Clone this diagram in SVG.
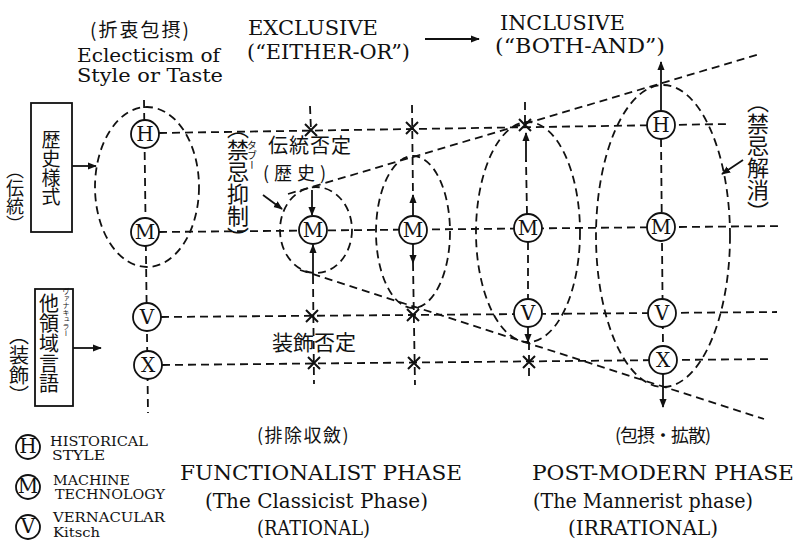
<svg xmlns="http://www.w3.org/2000/svg" width="796" height="540" viewBox="0 0 796 540">
<defs>
<marker id="ah" viewBox="0 0 10 10" refX="9" refY="5" markerWidth="9" markerHeight="9" orient="auto" markerUnits="userSpaceOnUse"><path d="M0,1 L10,5 L0,9 z" fill="#111"/></marker>
<style>
.d{stroke:#111;stroke-width:1.8;stroke-dasharray:8 5;fill:none}
.s{stroke:#111;stroke-width:1.8;fill:none}
.a{stroke:#111;stroke-width:1.8;fill:none;marker-end:url(#ah)}
.xm{stroke:#111;stroke-width:2;fill:none}
.nc{fill:#fff;stroke:#111;stroke-width:1.8}
.nl{font-family:"DejaVu Serif","Liberation Serif",serif;font-size:20px;text-anchor:middle;fill:#111}
.en{font-family:"DejaVu Serif","Liberation Serif",serif;fill:#111}
.jp{font-family:"Noto Sans CJK JP",sans-serif;fill:#111}
.v{font-family:"Noto Sans CJK JP",sans-serif;fill:#111;writing-mode:vertical-rl}
.box{fill:#fff;stroke:#111;stroke-width:1.8}
</style>
</defs>
<rect width="796" height="540" fill="#fff"/>

<g id="ovals">
<ellipse class="d" cx="147" cy="187" rx="52" ry="80"/>
<ellipse class="d" cx="316" cy="230" rx="36" ry="43"/>
<ellipse class="d" cx="413" cy="232" rx="37" ry="76"/>
<ellipse class="d" cx="528" cy="232" rx="52" ry="110"/>
<ellipse class="d" cx="663" cy="236" rx="67" ry="151"/>
</g>

<g id="connectors">
<line class="d" x1="159" y1="133" x2="730" y2="124"/>
<line class="d" x1="159" y1="232" x2="782" y2="226"/>
<line class="d" x1="161" y1="317" x2="777" y2="312"/>
<line class="d" x1="162" y1="365" x2="772" y2="359"/>
<line class="d" x1="288" y1="194" x2="760" y2="54"/>
<line class="d" x1="300" y1="270" x2="764" y2="419"/>
<line class="d" x1="144" y1="100" x2="148" y2="413"/>
<line class="d" x1="310" y1="106" x2="311" y2="131"/>
<line class="a" x1="312" y1="190" x2="312" y2="215"/>
<line class="a" x1="313" y1="276" x2="313" y2="245"/>
<line class="d" x1="313" y1="276" x2="314" y2="384"/>
<line class="d" x1="412" y1="105" x2="413" y2="197"/>
<line class="a" x1="413" y1="216" x2="413" y2="195"/>
<line class="a" x1="413" y1="244" x2="413" y2="263"/>
<line class="d" x1="413" y1="263" x2="415" y2="385"/>
<line class="d" x1="525" y1="102" x2="525" y2="125"/>
<line class="d" x1="527" y1="214" x2="526" y2="160"/>
<line class="a" x1="526" y1="162" x2="526" y2="133"/>
<line class="d" x1="528" y1="242" x2="528" y2="299"/>
<line class="a" x1="528" y1="327" x2="528" y2="342"/>
<line class="d" x1="529" y1="342" x2="529" y2="380"/>
<line class="a" x1="661" y1="111" x2="661" y2="62"/>
<line class="d" x1="661" y1="139" x2="663" y2="346"/>
<line class="a" x1="663" y1="374" x2="663" y2="407"/>
<path class="xm" d="M305,124 l12,12 M317,124 l-12,12 M406,122 l12,12 M418,122 l-12,12 M519,119 l12,12 M531,119 l-12,12 M306,310 l12,12 M318,310 l-12,12 M407,309 l12,12 M419,309 l-12,12 M308,357 l12,12 M320,357 l-12,12 M408,357 l12,12 M420,357 l-12,12 M523,356 l12,12 M535,356 l-12,12"/>
<line class="a" x1="425" y1="39" x2="479" y2="39"/>
<line class="a" x1="72" y1="166" x2="96" y2="166"/>
<line class="a" x1="73" y1="348" x2="101" y2="348"/>
<line class="a" x1="263" y1="195" x2="282" y2="209"/>
<line class="a" x1="743" y1="160" x2="722" y2="174"/>
</g>

<g id="node-H1"><circle class="nc" cx="145" cy="134" r="14"/><text class="nl" x="145" y="141">H</text></g>
<g id="node-M1"><circle class="nc" cx="145" cy="232" r="14"/><text class="nl" x="145" y="239">M</text></g>
<g id="node-V1"><circle class="nc" cx="147" cy="317" r="14"/><text class="nl" x="147" y="324">V</text></g>
<g id="node-X1"><circle class="nc" cx="148" cy="365" r="14"/><text class="nl" x="148" y="372">X</text></g>
<g id="node-M2"><circle class="nc" cx="313" cy="230" r="14"/><text class="nl" x="313" y="237">M</text></g>
<g id="node-M3"><circle class="nc" cx="413" cy="230" r="14"/><text class="nl" x="413" y="237">M</text></g>
<g id="node-M4"><circle class="nc" cx="528" cy="228" r="14"/><text class="nl" x="528" y="235">M</text></g>
<g id="node-V4"><circle class="nc" cx="528" cy="313" r="14"/><text class="nl" x="528" y="320">V</text></g>
<g id="node-H5"><circle class="nc" cx="661" cy="125" r="14"/><text class="nl" x="661" y="132">H</text></g>
<g id="node-M5"><circle class="nc" cx="661" cy="227" r="14"/><text class="nl" x="661" y="234">M</text></g>
<g id="node-V5"><circle class="nc" cx="662" cy="313" r="14"/><text class="nl" x="662" y="320">V</text></g>
<g id="node-X5"><circle class="nc" cx="663" cy="360" r="14"/><text class="nl" x="663" y="367">X</text></g>

<g id="box-history">
<rect class="box" x="31" y="103" width="41" height="129"/>
<text class="v" x="51" y="130" font-size="19">歴史様式</text>
<text class="v" x="15" y="161" font-size="18">（伝統）</text>
</g>
<g id="box-vernacular">
<rect class="box" x="35" y="289" width="38" height="117"/>
<text class="v" x="49" y="293" font-size="20">他領域言語</text>
<text class="v" x="66" y="288" font-size="7">ヴァナキュラー</text>
<text class="v" x="19" y="325" font-size="20">（装飾）</text>
</g>

<g id="labels">
<text class="jp" x="90" y="37" font-size="19" letter-spacing="2">(折衷包摂)</text>
<text class="en" x="77" y="62" font-size="19" textLength="143" lengthAdjust="spacingAndGlyphs">Eclecticism of</text>
<text class="en" x="77" y="82" font-size="19" textLength="146" lengthAdjust="spacingAndGlyphs">Style or Taste</text>
<text class="en" x="248" y="35" font-size="20" textLength="130" lengthAdjust="spacingAndGlyphs">EXCLUSIVE</text>
<text class="en" x="247" y="59" font-size="20" textLength="163" lengthAdjust="spacingAndGlyphs">(“EITHER-OR”)</text>
<text class="en" x="500" y="30" font-size="20" textLength="125" lengthAdjust="spacingAndGlyphs">INCLUSIVE</text>
<text class="en" x="495" y="53" font-size="20" textLength="170" lengthAdjust="spacingAndGlyphs">(“BOTH-AND”)</text>
<text class="jp" x="268" y="153" font-size="20" letter-spacing="1">伝統否定</text>
<text class="jp" x="263" y="180" font-size="18" letter-spacing="5">(歴史)</text>
<text class="v" x="238" y="117" font-size="22">（禁忌抑制）</text>
<text class="v" x="252" y="140" font-size="10">タブー</text>
<text class="v" x="758" y="91" font-size="22">（禁忌解消）</text>
<text class="jp" x="272" y="350" font-size="21">装飾否定</text>
<text class="jp" x="257" y="442" font-size="18" letter-spacing="1.5">(排除収斂)</text>
<text class="jp" x="615" y="442" font-size="18" letter-spacing="-1">(包摂・拡散)</text>
<text class="en" x="180" y="480" font-size="20" textLength="282" lengthAdjust="spacingAndGlyphs">FUNCTIONALIST PHASE</text>
<text class="en" x="205" y="508" font-size="20" textLength="223" lengthAdjust="spacingAndGlyphs">(The Classicist Phase)</text>
<text class="en" x="257" y="535" font-size="20" textLength="113" lengthAdjust="spacingAndGlyphs">(RATIONAL)</text>
<text class="en" x="532" y="480" font-size="20" textLength="262" lengthAdjust="spacingAndGlyphs">POST-MODERN PHASE</text>
<text class="en" x="533" y="508" font-size="20" textLength="220" lengthAdjust="spacingAndGlyphs">(The Mannerist phase)</text>
<text class="en" x="568" y="535" font-size="20" textLength="150" lengthAdjust="spacingAndGlyphs">(IRRATIONAL)</text>
</g>

<g id="legend">
<circle class="nc" cx="28" cy="447" r="12"/><text class="nl" x="28" y="453" font-size="17">H</text>
<circle class="nc" cx="28" cy="487" r="12"/><text class="nl" x="28" y="493" font-size="17">M</text>
<circle class="nc" cx="28" cy="527" r="12"/><text class="nl" x="28" y="533" font-size="17">V</text>
<text class="en" x="50" y="446" font-size="13" textLength="98" lengthAdjust="spacingAndGlyphs">HISTORICAL</text>
<text class="en" x="52" y="460" font-size="13" textLength="53" lengthAdjust="spacingAndGlyphs">STYLE</text>
<text class="en" x="53" y="485" font-size="13" textLength="77" lengthAdjust="spacingAndGlyphs">MACHINE</text>
<text class="en" x="55" y="499" font-size="13" textLength="110" lengthAdjust="spacingAndGlyphs">TECHNOLOGY</text>
<text class="en" x="53" y="522" font-size="13" textLength="112" lengthAdjust="spacingAndGlyphs">VERNACULAR</text>
<text class="en" x="53" y="537" font-size="13" textLength="47" lengthAdjust="spacingAndGlyphs">Kitsch</text>
</g>
</svg>
